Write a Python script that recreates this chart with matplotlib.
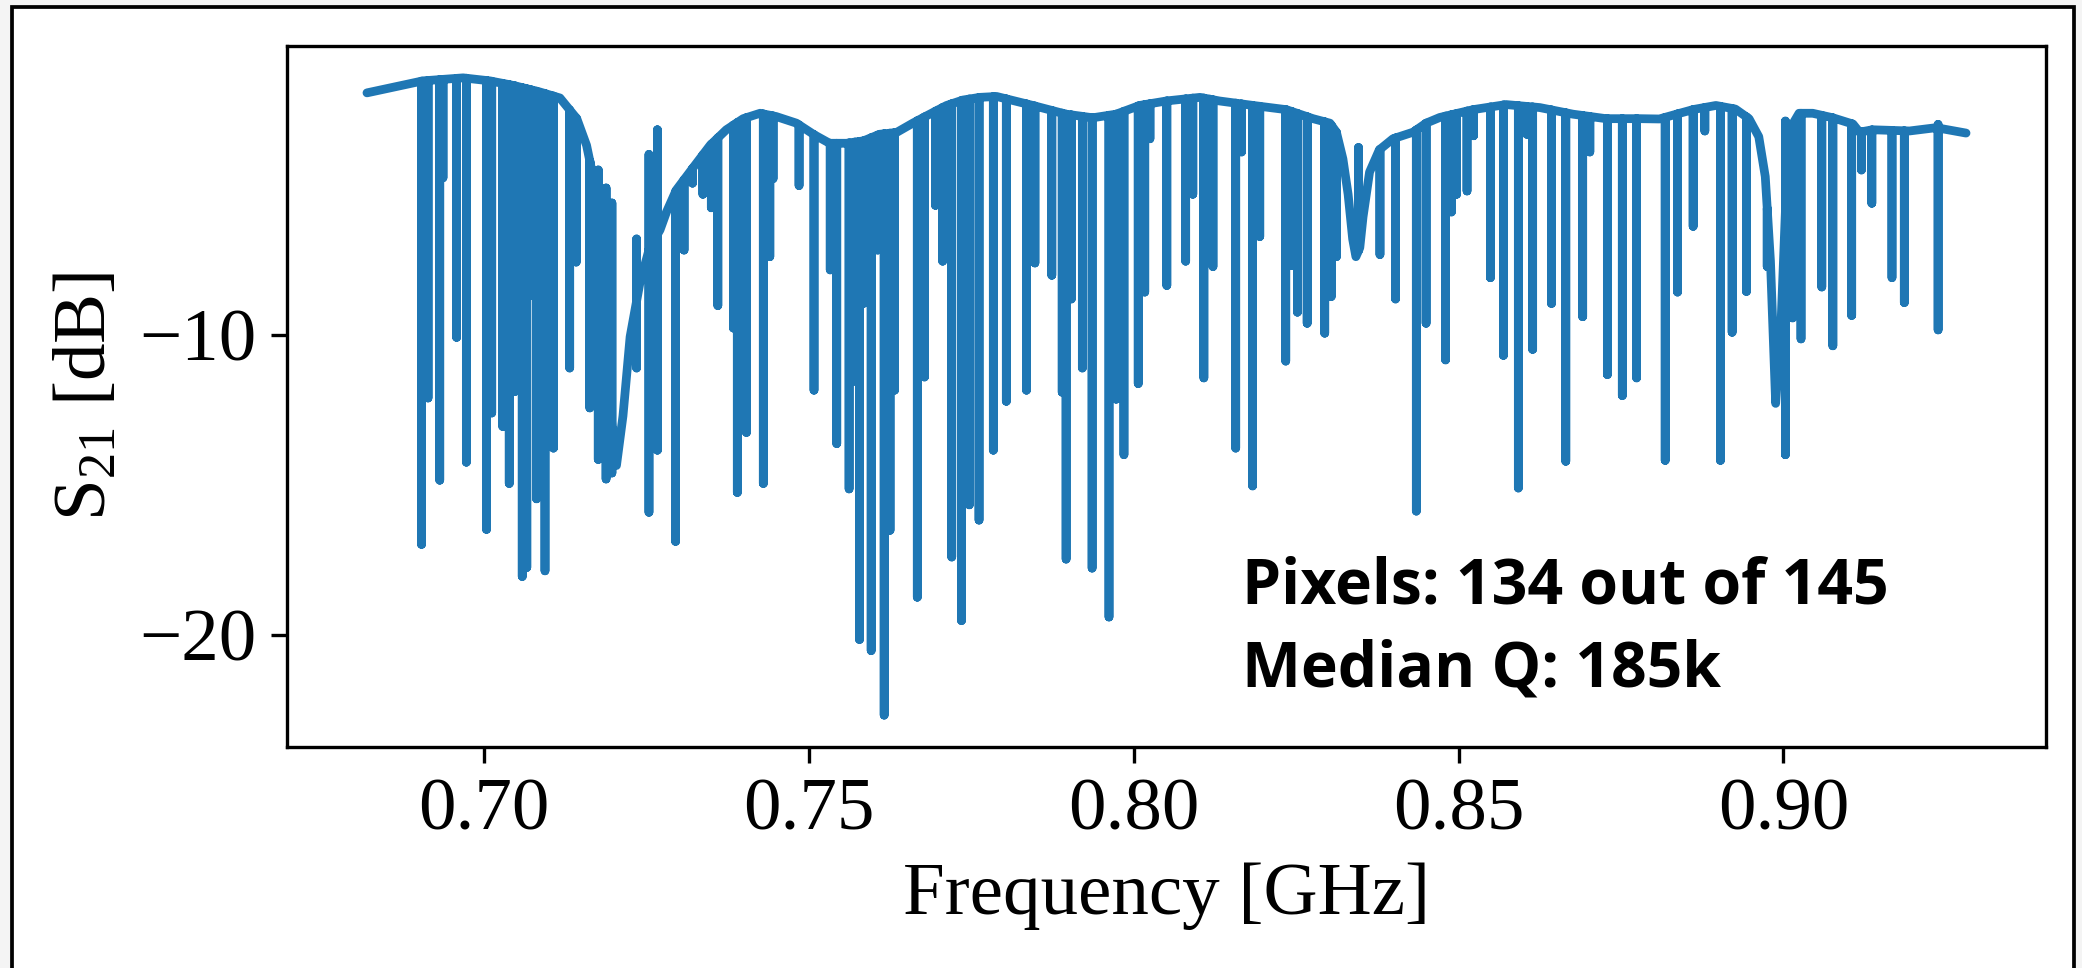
import numpy as np
import matplotlib.pyplot as plt
from matplotlib.patches import Rectangle

# smooth background of the S21 trace (GHz, dB)
base_freq = [0.6820, 0.6906, 0.6968, 0.7009, 0.7045, 0.7086, 0.7117, 0.7143,
             0.7158, 0.7168, 0.7178, 0.7189, 0.7199, 0.7204, 0.7214, 0.7225,
             0.7240, 0.7255, 0.7271, 0.7281, 0.7296, 0.7322, 0.7348, 0.7373,
             0.7399, 0.7425, 0.7450, 0.7481, 0.7507, 0.7532, 0.7558, 0.7584,
             0.7609, 0.7635, 0.7660, 0.7686, 0.7712, 0.7737, 0.7763, 0.7789,
             0.7845, 0.7896, 0.7937, 0.7973, 0.8009, 0.8050, 0.8102, 0.8132,
             0.8184, 0.8235, 0.8276, 0.8302, 0.8312, 0.8322, 0.8330, 0.8337,
             0.8342, 0.8348, 0.8353, 0.8363, 0.8378, 0.8399, 0.8430, 0.8450,
             0.8471, 0.8522, 0.8573, 0.8625, 0.8676, 0.8727, 0.8778, 0.8809,
             0.8860, 0.8896, 0.8926, 0.8947, 0.8962, 0.8972, 0.8980, 0.8988,
             0.8996, 0.9004, 0.9011, 0.9024, 0.9045, 0.9076, 0.9107, 0.9117,
             0.9137, 0.9194, 0.9235, 0.9281]
base_db = [-1.93, -1.53, -1.43, -1.53, -1.68, -1.90, -2.10, -2.79,
           -3.68, -4.72, -6.80, -9.77, -13.90, -14.35, -12.70, -10.06,
           -8.27, -7.09, -6.50, -5.90, -5.17, -4.42, -3.68, -3.16,
           -2.79, -2.61, -2.72, -2.94, -3.31, -3.61, -3.61, -3.53,
           -3.31, -3.25, -2.94, -2.64, -2.35, -2.17, -2.08, -2.05,
           -2.35, -2.64, -2.76, -2.64, -2.35, -2.20, -2.08, -2.20,
           -2.35, -2.49, -2.79, -2.94, -3.24, -4.13, -5.31, -6.80,
           -7.39, -7.09, -6.06, -4.57, -3.83, -3.46, -3.24, -2.94,
           -2.75, -2.49, -2.32, -2.42, -2.64, -2.79, -2.79, -2.80,
           -2.49, -2.35, -2.47, -2.79, -3.39, -4.72, -7.54, -12.28,
           -9.77, -5.31, -3.09, -2.61, -2.61, -2.76, -2.97, -3.24,
           -3.16, -3.20, -3.09, -3.27]

# resonator dips: centre frequency (GHz) and level at the bottom (dB)
dip_freq = [0.6904, 0.6914, 0.6932, 0.6937, 0.6958, 0.6973, 0.7004, 0.7012,
            0.7029, 0.7039, 0.7048, 0.7059, 0.7066, 0.7073, 0.7081, 0.7094,
            0.7107, 0.7132, 0.7142, 0.7163, 0.7176, 0.7188, 0.7197, 0.7235,
            0.7254, 0.7267, 0.7295, 0.7308, 0.7321, 0.7337, 0.7350, 0.7360,
            0.7384, 0.7390, 0.7404, 0.7430, 0.7440, 0.7445, 0.7485, 0.7508,
            0.7533, 0.7543, 0.7562, 0.7571, 0.7578, 0.7584, 0.7596, 0.7606,
            0.7616, 0.7625, 0.7632, 0.7667, 0.7678, 0.7695, 0.7706, 0.7720,
            0.7735, 0.7747, 0.7762, 0.7784, 0.7804, 0.7835, 0.7848, 0.7874,
            0.7890, 0.7896, 0.7904, 0.7921, 0.7936, 0.7962, 0.7973, 0.7985,
            0.8007, 0.8017, 0.8025, 0.8051, 0.8080, 0.8091, 0.8108, 0.8117,
            0.8122, 0.8157, 0.8166, 0.8183, 0.8194, 0.8234, 0.8243, 0.8252,
            0.8267, 0.8294, 0.8304, 0.8312, 0.8346, 0.8379, 0.8403, 0.8435,
            0.8450, 0.8480, 0.8489, 0.8497, 0.8513, 0.8523, 0.8549, 0.8569,
            0.8592, 0.8605, 0.8614, 0.8643, 0.8665, 0.8691, 0.8702, 0.8729,
            0.8752, 0.8774, 0.8818, 0.8837, 0.8861, 0.8879, 0.8903, 0.8921,
            0.8943, 0.8975, 0.9003, 0.9014, 0.9027, 0.9059, 0.9076, 0.9105,
            0.9120, 0.9136, 0.9167, 0.9186, 0.9238]
dip_db = [-16.98, -12.10, -14.84, -4.76, -10.08, -14.24, -16.48, -12.60,
          -13.05, -14.95, -11.88, -18.05, -17.75, -8.67, -15.46, -17.86,
          -13.77, -11.10, -7.57, -12.43, -14.15, -14.80, -14.60, -11.10,
          -15.91, -13.84, -16.88, -7.17, -4.94, -5.31, -5.76, -9.02,
          -9.77, -15.25, -13.25, -14.95, -7.39, -4.79, -5.02, -11.84,
          -7.83, -13.62, -15.13, -11.54, -20.15, -8.95, -20.52, -7.17,
          -22.67, -16.51, -11.84, -18.74, -11.40, -5.68, -7.54, -17.40,
          -19.52, -15.66, -16.17, -13.84, -12.21, -11.84, -7.60, -8.01,
          -11.91, -17.47, -8.80, -11.10, -17.77, -19.40, -12.14, -13.99,
          -11.62, -8.57, -3.46, -8.35, -7.54, -5.31, -11.43, -4.28,
          -7.72, -13.77, -3.90, -15.03, -6.72, -10.87, -7.69, -9.24,
          -9.61, -9.94, -8.72, -7.39, -7.10, -7.32, -8.80, -15.87,
          -9.61, -10.83, -5.90, -5.31, -5.20, -3.36, -8.09, -10.68,
          -15.10, -3.31, -10.48, -8.95, -14.21, -9.39, -3.90, -11.32,
          -12.02, -11.43, -14.18, -8.57, -6.38, -3.20, -14.18, -9.91,
          -8.55, -7.72, -13.99, -9.43, -10.13, -8.40, -10.36, -9.35,
          -4.50, -5.61, -8.09, -8.92, -9.83]

# resonances on the slopes first kick upward before the dip (GHz, dB)
kick_freq = [0.7176, 0.7188, 0.7197, 0.7235, 0.7254, 0.7267, 0.8346, 0.9003, 0.9238]
kick_db = [-4.50, -5.10, -5.60, -6.80, -3.98, -3.16, -3.75, -2.87, -2.98]

ytick_values = [-10, -20]
note_text = "Pixels: 134 out of 145\nMedian Q: 185k"


def build_trace():
    kicks = dict(zip(kick_freq, kick_db))
    pieces = [(f, [v]) for f, v in zip(base_freq, base_db)]
    for f, low in zip(dip_freq, dip_db):
        b = float(np.interp(f, base_freq, base_db))
        if f in kicks:
            pieces.append((f, [b, kicks[f], low, b]))
        else:
            pieces.append((f, [b, low, b]))
    pieces.sort(key=lambda p: p[0])
    xs, ys = [], []
    for f, vals in pieces:
        xs += [f] * len(vals)
        ys += vals
    return np.array(xs), np.array(ys)


def main():
    plt.rcParams["font.family"] = "Liberation Serif"
    plt.rcParams["mathtext.fontset"] = "custom"
    plt.rcParams["mathtext.rm"] = "Liberation Serif"
    plt.rcParams["mathtext.it"] = "Liberation Serif:italic"

    fig = plt.figure(figsize=(2082 / 300, 968 / 300), dpi=300, facecolor="#f4f4f4")
    # white page with a black border, cut off at the bottom edge
    fig.patches.append(Rectangle((12 / 2082, -0.1), 2062 / 2082, 1.1 - 7 / 968,
                                 transform=fig.transFigure, facecolor="white",
                                 edgecolor="black", linewidth=0.9, zorder=-1))

    ax = fig.add_axes([287 / 2082, 1 - 747 / 968, 1759 / 2082, 701 / 968])
    freq, s21 = build_trace()
    ax.plot(freq, s21, color="#1f77b4", linewidth=2.1,
            solid_capstyle="round", solid_joinstyle="round")

    ax.set_yticks(ytick_values)
    ax.tick_params(labelsize=18, length=3.9)
    ax.set_xlabel("Frequency [GHz]", fontsize=18)
    ax.set_ylabel("S$_{21}$ [dB]", fontsize=18)

    # va="baseline" pins the last line, so y is the baseline of "Median Q"
    ax.text(0.543, 0.0856, note_text, transform=ax.transAxes,
            fontfamily="Open Sans", fontweight="bold", fontsize=15,
            va="baseline", ha="left", linespacing=1.43)

    fig.savefig("out.png", dpi=300, facecolor=fig.get_facecolor())


if __name__ == "__main__":
    main()
